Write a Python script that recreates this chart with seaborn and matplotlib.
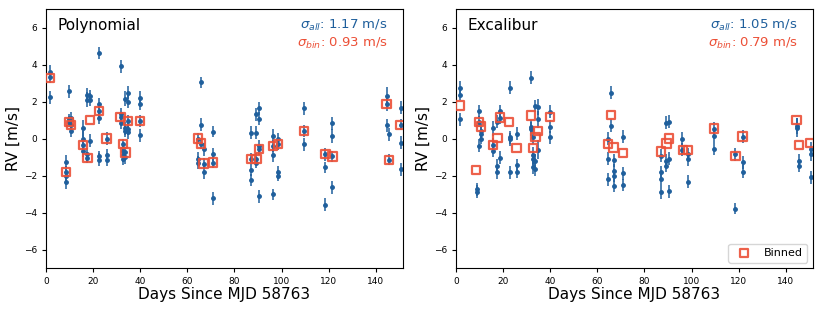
import matplotlib
matplotlib.use('Agg')
import matplotlib.pyplot as plt
import seaborn as sns

BLUE = '#1f5f9c'
RED = '#ec5037'

# nightly binned values (same nights in both panels)
bin_days = [1.7, 8.5, 9.7, 10.7, 15.7, 17.6, 18.7, 22.6, 25.7, 31.7, 32.6, 33.7, 34.7, 39.8,
            64.6, 65.7, 66.9, 71.0, 87.1, 89.3, 90.3, 96.4, 98.6, 109.6, 118.6, 121.6,
            144.6, 145.7, 150.3]
bin_poly = [3.28, -1.8, 0.91, 0.72, -0.34, -1.04, 1.02, 1.5, 0.0, 1.15, -0.31, -0.75, 0.95, 0.95,
            0.0, -0.27, -1.35, -1.3, -1.1, -1.1, -0.57, -0.4, -0.3, 0.41, -0.84, -0.97,
            1.85, -1.15, 0.74]
bin_excal = [1.79, -1.69, 0.91, 0.65, -0.34, 0.02, 1.13, 0.88, -0.52, 1.25, -0.5, 0.07, 0.41, 1.15,
             -0.3, 1.26, -0.48, -0.77, -0.7, -0.27, 0.0, -0.61, -0.63, 0.54, -0.93, 0.11,
             0.99, -0.36, -0.25]

# individual RVs, Polynomial
days_poly = [1.5, 1.5, 1.5,
             8.5, 8.5, 8.5, 8.5,
             9.7, 9.7, 9.7,
             10.7, 10.7, 10.7,
             15.7, 15.7, 15.7, 15.7,
             17.6, 17.6, 17.6, 17.6,
             18.7, 18.7, 18.7,
             22.6, 22.6, 22.6, 22.6, 22.6, 22.6,
             25.7, 25.7, 25.7,
             31.7, 31.7, 31.7, 31.7,
             32.6, 32.6, 32.6, 32.6,
             33.7, 33.7, 33.7, 33.7, 33.7,
             34.7, 34.7, 34.7, 34.7, 34.7,
             39.8, 39.8, 39.8, 39.8,
             64.6, 64.6, 64.6,
             65.7, 65.7, 65.7,
             66.9, 66.9, 66.9,
             71.0, 71.0, 71.0, 71.0,
             87.1, 87.1, 87.1, 87.1,
             89.3, 89.3, 89.3, 89.3,
             90.3, 90.3, 90.3, 90.3, 90.3,
             96.4, 96.4, 96.4, 96.4,
             98.6, 98.6, 98.6, 98.6,
             109.6, 109.6, 109.6,
             118.6, 118.6, 118.6,
             121.4, 121.4, 121.4, 121.4,
             144.6, 144.6, 144.6,
             145.7, 145.7,
             150.7, 150.7, 150.7, 150.7]
rv_poly = [3.6, 3.3, 2.24,
           -1.26, -1.8, -2.0, -2.33,
           2.56, 1.04, 0.91,
           1.13, 0.72, 0.41,
           0.55, 0.0, -0.34, -0.67,
           2.38, 2.1, -0.86, -1.04,
           2.3, 2.1, -0.13,
           4.63, 1.88, 1.5, 1.13, -0.97, -1.15,
           0.0, -0.9, -1.15,
           3.91, 1.31, 1.15, 0.82,
           -0.31, -0.67, -0.9, -1.1,
           2.15, 0.55, 0.41, -0.75, -1.0,
           2.48, 2.0, 0.95, 0.52, 0.35,
           2.2, 1.88, 0.95, 0.18,
           0.0, -1.08, -1.3,
           3.05, 0.74, -0.27,
           -0.57, -1.35, -1.83,
           0.36, -0.86, -1.3, -3.23,
           0.32, -1.1, -1.7, -2.24,
           1.3, 0.32, -1.1, -1.3,
           1.63, 1.08, -0.4, -0.57, -3.12,
           0.14, -0.4, -0.9, -3.0,
           -0.04, -0.3, -1.83, -2.0,
           1.63, 0.41, -0.3,
           -0.84, -1.56, -3.57,
           0.83, 0.14, -0.97, -2.64,
           2.3, 1.85, 0.72,
           0.23, -1.15,
           1.67, 0.74, -0.22, -1.65]
err_poly = [0.35, 0.3, 0.35,
            0.35, 0.3, 0.35, 0.4,
            0.35, 0.3, 0.3,
            0.3, 0.3, 0.35,
            0.45, 0.4, 0.3, 0.35,
            0.35, 0.4, 0.35, 0.3,
            0.35, 0.35, 0.35,
            0.33, 0.3, 0.35, 0.35, 0.3, 0.35,
            0.35, 0.35, 0.35,
            0.35, 0.35, 0.3, 0.3,
            0.3, 0.35, 0.35, 0.35,
            0.4, 0.35, 0.35, 0.3, 0.35,
            0.35, 0.35, 0.3, 0.35, 0.35,
            0.35, 0.35, 0.3, 0.35,
            0.3, 0.35, 0.35,
            0.3, 0.35, 0.3,
            0.35, 0.3, 0.35,
            0.3, 0.35, 0.3, 0.35,
            0.35, 0.3, 0.35, 0.35,
            0.35, 0.35, 0.3, 0.3,
            0.35, 0.35, 0.3, 0.3, 0.35,
            0.35, 0.3, 0.35, 0.3,
            0.35, 0.3, 0.35, 0.3,
            0.35, 0.3, 0.35,
            0.35, 0.3, 0.35,
            0.35, 0.4, 0.3, 0.35,
            0.5, 0.35, 0.35,
            0.35, 0.3,
            0.35, 0.3, 0.35, 0.35]

# individual RVs, Excalibur
days_excal = [1.7, 1.7, 1.7,
              8.8, 8.8,
              9.7, 9.7, 9.7,
              10.7, 10.7, 10.7,
              15.7, 15.7, 15.7,
              17.6, 17.6, 17.6,
              18.7, 18.7, 18.7,
              22.8, 22.8, 22.8, 22.8,
              25.9, 25.9, 25.9,
              31.7, 31.7, 31.7,
              32.6, 32.6, 32.6, 32.6,
              33.7, 33.7, 33.7,
              34.7, 34.7, 34.7,
              39.8, 39.8, 39.8,
              64.6, 64.6, 64.6,
              65.7, 65.7,
              66.9, 66.9, 66.9, 66.9,
              71.0, 71.0, 71.0,
              87.1, 87.1, 87.1, 87.1,
              89.3, 89.3, 89.3,
              90.3, 90.3, 90.3,
              96.1, 96.1,
              98.6, 98.6, 98.6,
              109.6, 109.6, 109.6,
              118.6, 118.6,
              121.9, 121.9, 121.9,
              144.6, 144.6,
              145.7, 145.7,
              150.7, 150.7, 150.7]
rv_excal = [2.74, 2.38, 1.04,
            -2.73, -2.87,
            1.49, 0.9, -0.4,
            0.41, 0.0, 0.25,
            0.55, -0.34, -0.67,
            0.9, -1.47, -1.83,
            1.49, 1.13, -1.03,
            2.74, 0.07, -0.04, -1.83,
            0.25, -1.43, -1.79,
            3.28, 0.52, 0.65,
            0.06, -0.9, -1.1, -1.56,
            1.76, -1.2, -1.65,
            1.7, 1.04, -0.6,
            1.45, 0.65, 0.06,
            0.0, -1.08, -2.19,
            2.48, 0.68,
            -1.17, -1.74, -2.0, -2.55,
            0.11, -1.87, -2.51,
            -0.93, -1.83, -2.19, -2.9,
            0.86, -1.2, -1.47,
            0.91, -1.08, -2.85,
            0.0, -0.61,
            -0.84, -1.11, -2.33,
            0.54, 0.14, -0.54,
            -0.84, -3.8,
            0.11, -1.29, -1.79,
            0.59, 0.68,
            -1.2, -1.47,
            -0.54, -0.84, -2.1]
err_excal = [0.35, 0.3, 0.35,
             0.35, 0.35,
             0.35, 0.3, 0.35,
             0.35, 0.3, 0.35,
             0.4, 0.35, 0.35,
             0.35, 0.35, 0.35,
             0.35, 0.35, 0.35,
             0.35, 0.35, 0.35, 0.35,
             0.35, 0.35, 0.35,
             0.35, 0.4, 0.35,
             0.35, 0.45, 0.35, 0.35,
             0.35, 0.35, 0.35,
             0.45, 0.45, 0.5,
             0.35, 0.35, 0.35,
             0.35, 0.35, 0.35,
             0.35, 0.35,
             0.35, 0.35, 0.35, 0.35,
             0.35, 0.35, 0.35,
             0.35, 0.35, 0.35, 0.35,
             0.35, 0.35, 0.35,
             0.35, 0.35, 0.35,
             0.35, 0.35,
             0.35, 0.35, 0.35,
             0.35, 0.35, 0.35,
             0.35, 0.3,
             0.35, 0.35, 0.35,
             0.5, 0.45,
             0.35, 0.35,
             0.35, 0.35, 0.35]

panels = [
    ('Polynomial', days_poly, rv_poly, err_poly, bin_poly, '1.17', '0.93'),
    ('Excalibur', days_excal, rv_excal, err_excal, bin_excal, '1.05', '0.79'),
]

fig = plt.figure(figsize=(8.3, 3.11), dpi=100)
lefts = [0.0554, 0.5494]

for i, (name, d, rv, err, brv, s_all, s_bin) in enumerate(panels):
    ax = fig.add_axes([lefts[i], 0.138, 0.43, 0.833])
    ax.errorbar(d, rv, yerr=err, fmt='o', ms=2.5, color=BLUE, ecolor=BLUE,
                elinewidth=1.1, capsize=0, zorder=2)
    sns.scatterplot(x=bin_days, y=brv, marker='s', s=36, facecolor='none',
                    edgecolor=RED, linewidth=1.6, alpha=0.9, ax=ax, zorder=3,
                    label='Binned' if i == 1 else None)
    ax.set_xlim(0, 151.5)
    ax.set_ylim(-7, 7)
    ax.set_yticks([-6, -4, -2, 0, 2, 4, 6])
    ax.tick_params(labelsize=6.5, length=3)
    ax.set_xlabel('Days Since MJD 58763', fontsize=11, labelpad=1)
    ax.set_ylabel('RV [m/s]', fontsize=11, labelpad=2)
    ax.text(0.032, 0.935, name, transform=ax.transAxes, fontsize=11, va='center')
    ax.text(0.958, 0.938, r'$\sigma_{all}$: ' + s_all + ' m/s', transform=ax.transAxes,
            fontsize=9.5, color=BLUE, ha='right', va='center')
    ax.text(0.958, 0.868, r'$\sigma_{bin}$: ' + s_bin + ' m/s', transform=ax.transAxes,
            fontsize=9.5, color=RED, ha='right', va='center')
    if i == 1:
        ax.legend(loc='lower right', fontsize=8)

fig.savefig('out.png', dpi=100)
